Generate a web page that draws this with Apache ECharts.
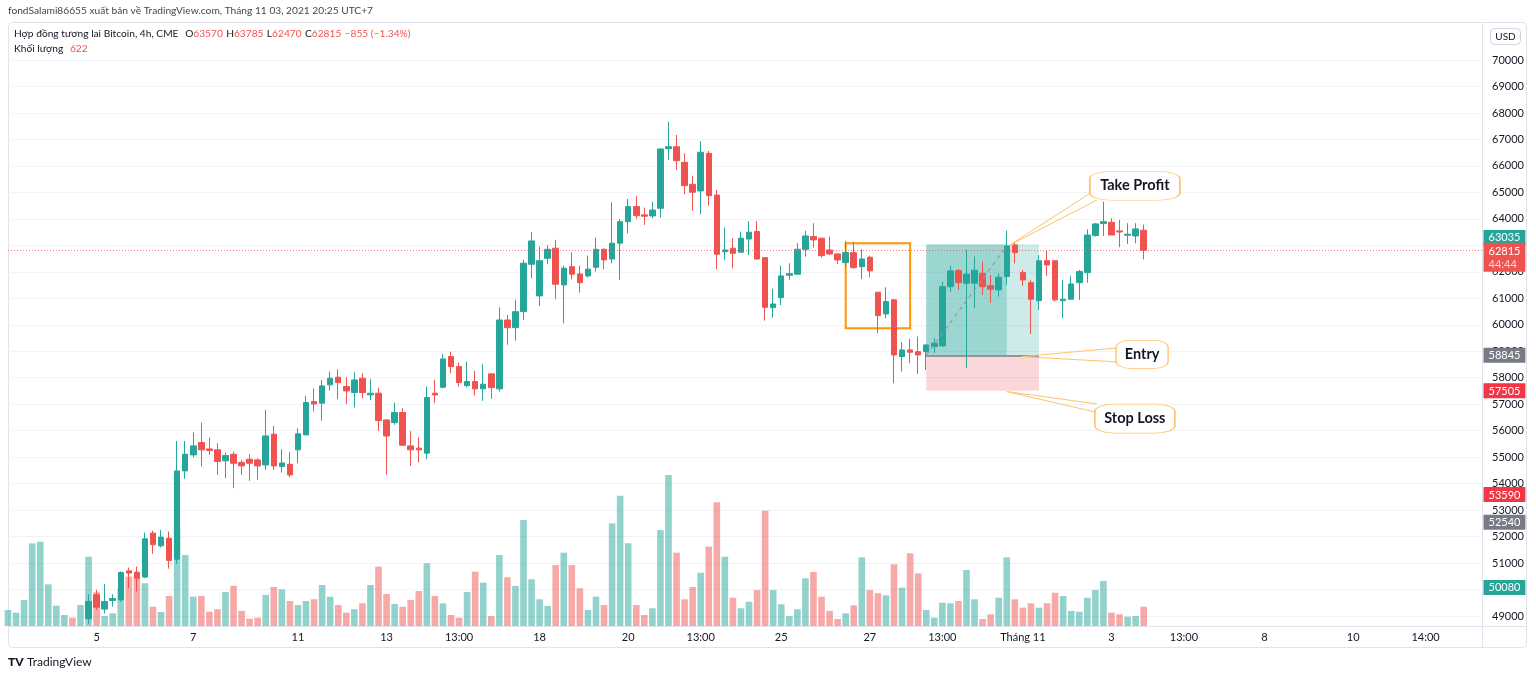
<!DOCTYPE html>
<html>
<head>
<meta charset="utf-8">
<title>Bitcoin CME 4h</title>
<script src="https://cdn.jsdelivr.net/npm/echarts@6/dist/echarts.min.js"></script>
<style>
  html, body { margin: 0; padding: 0; background: #fff; }
  #chart { width: 1536px; height: 679px; }
</style>
</head>
<body>
<div id="chart"></div>
<script>
// bars 0-9 trade below the visible price range, so candles start at bar 10
const firstCandle = 10;

const opens = [
  48900, 49800, 49260, 49585, 49610, 50705, 50655, 50470, 52130, 51650,
  51940, 51145, 54480, 55085, 55550, 55310, 55275, 54860, 55110, 54800,
  54920, 54895, 54705, 55865, 54645, 54730, 55275, 55840, 57100, 57040,
  57730, 58020, 57665, 57440, 57980, 57350, 57415, 56405, 56305, 56685,
  55425, 55340, 55150, 57415, 57640, 58800, 58420, 57700, 57855, 57580,
  58145, 57580, 60180, 59890, 60495, 62285, 61090, 62510, 62890, 61505,
  62195, 61920, 61845, 62170, 62850, 62485, 63080, 63895, 64465, 64150,
  64110, 64400, 66650, 66725, 66135, 65305, 65055, 66475, 64900, 62760,
  62890, 62740, 63240, 63520, 62535, 60645, 61025, 61870, 61910, 62850,
  63330, 63270, 62825, 62675, 62350, 62725, 62195, 62550, 61230, 60410,
  60940, 58800, 59050, 58985, 58985, 59175, 59200, 61440, 62045, 61570,
  61570, 61945, 61480, 61315, 61820, 63015, 61970, 61590, 60910, 62420,
  62420, 60910, 60965, 61590, 61970, 63370, 63820, 63870, 63545, 63380,
  63355, 63570
];
const closes = [
  49545, 49330, 49545, 49660, 50640, 50620, 50430, 51915, 51690, 51980,
  51100, 54480, 55110, 55425, 55275, 55250, 54835, 55060, 54770, 54670,
  54770, 54670, 55800, 54670, 54780, 54330, 55880, 57060, 57010, 57690,
  57980, 57815, 57500, 57915, 57440, 57415, 56380, 55800, 56685, 55450,
  55275, 55275, 57250, 57350, 58710, 58420, 57815, 57855, 57580, 57755,
  57625, 60180, 59890, 60495, 62325, 63165, 62420, 62850, 61530, 62135,
  61910, 61590, 62100, 62850, 62450, 63080, 63895, 64465, 64120, 64100,
  64335, 66640, 66725, 66200, 65255, 65005, 66515, 64875, 62665, 62825,
  62700, 63270, 63495, 62485, 60660, 60785, 61845, 61930, 62850, 63355,
  63205, 62610, 62675, 62450, 62725, 62160, 62485, 62035, 60345, 60875,
  58860, 59050, 58960, 58860, 59240, 59300, 61440, 62035, 61590, 61910,
  62060, 61440, 61340, 61795, 62975, 62725, 61695, 60965, 62420, 62260,
  60940, 60965, 61540, 62010, 63390, 63810, 63895, 63390, 63505, 63420,
  63620, 62815
];
const lows = [
  48700, 49230, 49100, 49360, 49545, 50050, 49925, 50430, 51345, 51585,
  50790, 50970, 54180, 54990, 54645, 55085, 54330, 54205, 53830, 54330,
  54105, 54140, 54520, 54520, 54415, 54240, 54770, 55840, 56720, 56380,
  57510, 57190, 57010, 56875, 57225, 57160, 55990, 54330, 56220, 55425,
  54670, 54800, 54920, 57040, 57600, 58170, 57665, 57640, 57325, 57125,
  57200, 57475, 59240, 59400, 60180, 61760, 60710, 62285, 60965, 60060,
  61720, 61215, 61780, 62010, 62100, 62320, 61695, 63455, 63995, 63770,
  64025, 64050, 66225, 65850, 64930, 64300, 64175, 64500, 62100, 62450,
  62135, 62740, 62635, 62450, 60155, 60270, 60745, 61695, 61910, 62575,
  62910, 62535, 62635, 62285, 62195, 62110, 61730, 61795, 59680, 60245,
  57790, 58230, 58550, 58145, 58295, 58925, 59175, 61250, 61315, 58360,
  60625, 61125, 60835, 61060, 61505, 62320, 61470, 59655, 60560, 61845,
  60875, 60245, 60940, 60940, 61590, 63330, 63355, 63390, 62930, 63050,
  63080, 62470
];
const highs = [
  49820, 49990, 50215, 49820, 50680, 50830, 50870, 52150, 52225, 52250,
  52190, 55610, 55610, 55930, 56305, 55740, 55525, 55170, 55210, 54900,
  55110, 54960, 56785, 56180, 55300, 55185, 56095, 57310, 57600, 57915,
  58230, 58320, 58020, 58210, 58170, 57945, 57625, 56435, 57060, 56850,
  55980, 55750, 57665, 57915, 58900, 58985, 58570, 58610, 58255, 58510,
  58145, 60660, 60370, 60940, 62450, 63495, 62950, 63015, 63205, 62235,
  62740, 62235, 62610, 63290, 62890, 64625, 63995, 64750, 64865, 64425,
  64650, 66665, 67670, 67170, 66480, 65630, 66940, 66565, 65090, 63670,
  63270, 63520, 63920, 63920, 62535, 61355, 62235, 62325, 63080, 63545,
  63835, 63270, 63330, 62700, 63165, 63140, 62850, 62610, 61230, 61415,
  60965, 59340, 59465, 59555, 59240, 59490, 61630, 62225, 62100, 62825,
  62575, 62385, 61880, 61945, 63555, 63120, 62070, 61695, 62635, 62790,
  62420, 61695, 61845, 62070, 63605, 63835, 64650, 64020, 63960, 63835,
  63835, 63785
];
const volumes = [
  515, 430, 840, 2660, 2715, 1340, 655, 355, 270, 675,
  2230, 1085, 320, 410, 1215, 1590, 1590, 1375, 620, 450,
  965, 3145, 2285, 945, 965, 460, 540, 1095, 1290, 485,
  235, 270, 1000, 1255, 1180, 805, 675, 805, 860, 1320,
  945, 675, 430, 540, 730, 1320, 1910, 1030, 710, 620,
  840, 1125, 2020, 965, 730, 355, 270, 1095, 1750, 1395,
  320, 2285, 1570, 1290, 3415, 1505, 860, 645, 1965, 2360,
  1965, 1215, 515, 945, 675, 3305, 4195, 2665, 675, 355,
  570, 3090, 4860, 2360, 860, 1255, 1715, 2555, 3985, 2230,
  910, 570, 780, 1160, 3715, 1160, 700, 320, 540, 1535,
  1740, 945, 485, 225, 410, 665, 2210, 1160, 1055, 990,
  1985, 1235, 2340, 1695, 515, 270, 750, 730, 805, 1805,
  860, 225, 375, 910, 2210, 860, 590, 730, 590, 730,
  1070, 965, 485, 460, 910, 1160, 1450, 430, 375, 300,
  320, 622
];
// direction of the bars whose candles are off screen
const earlyDir = ['up', 'up', 'up', 'up', 'up', 'up', 'up', 'up', 'down', 'up'];

const priceTicks = [49000, 50000, 51000, 52000, 53000, 54000, 55000, 56000, 57000, 58000,
  59000, 60000, 61000, 62000, 63000, 64000, 65000, 66000, 67000, 68000, 69000, 70000];
const timeLabels = ['5', '7', '11', '13', '13:00', '18', '20', '13:00', '25', '27',
  '13:00', 'Tháng 11', '3', '13:00', '8', '10', '14:00'];
const timeLabelBar = [11, 23, 36, 47, 56, 66, 77, 86, 96, 107, 116, 126, 137, 146, 156, 167, 176];

// position tool / levels
const entryPrice = 58845;
const targetPrice = 63035;
const stopPrice = 57505;
const lastPrice = 62815;
const sideLevels = [53590, 52540, 50080];

const UP = '#26a69a';
const DOWN = '#ef5350';
const FONT = 'Lato, "Noto Sans", sans-serif';
const slotCount = 184; // bars + empty space on the right

const categories = new Array(slotCount).fill('');
timeLabelBar.forEach((b, k) => { categories[b] = timeLabels[k]; });

const candleData = [];
const volumeData = [];
for (let i = 0; i < volumes.length; i++) {
  const k = i - firstCandle;
  let isUp;
  if (k >= 0) {
    candleData.push([opens[k], closes[k], lows[k], highs[k]]);
    isUp = closes[k] >= opens[k];
  } else {
    candleData.push('-');
    isUp = earlyDir[i] === 'up';
  }
  volumeData.push({
    value: volumes[i],
    itemStyle: { color: isUp ? 'rgba(38,166,154,0.5)' : 'rgba(239,83,80,0.5)' }
  });
}

const lastSlot = slotCount - 1;
function priceTag(value, bg, dy, text) {
  return {
    coord: [lastSlot, value],
    symbol: 'rect',
    symbolSize: 1,
    itemStyle: { color: 'rgba(0,0,0,0)' },
    label: {
      show: true,
      position: 'right',
      distance: 1,
      offset: [0, dy],
      formatter: text || String(value),
      backgroundColor: bg,
      color: '#fff',
      fontSize: 11,
      fontFamily: FONT,
      padding: [2, 5, 1, 5],
      lineHeight: 12,
      rich: {
        a: { color: '#fff', fontSize: 11, fontFamily: FONT, lineHeight: 13 },
        b: { color: 'rgba(255,255,255,0.75)', fontSize: 11, fontFamily: FONT, lineHeight: 13 }
      }
    }
  };
}

function callout(x, y, w, h, text) {
  return {
    coord: [x, y],
    symbol: 'roundRect',
    symbolSize: [w, h],
    itemStyle: { color: '#fff', borderColor: '#ffc26b', borderWidth: 1 },
    label: {
      show: true,
      position: 'inside',
      formatter: text,
      color: '#131722',
      fontSize: 14.5,
      fontWeight: 'bold',
      fontFamily: FONT
    }
  };
}

const wedge = { color: '#ffc26b', width: 1, type: 'solid' };
function seg(a, b, style) {
  return [{ coord: a, lineStyle: style }, { coord: b }];
}

const chart = echarts.init(document.getElementById('chart'));

const option = {
  animation: false,
  backgroundColor: '#fff',
  grid: { left: 8, right: 54, top: 24, bottom: 53 },
  xAxis: [
    {
      type: 'category',
      data: categories,
      boundaryGap: false,
      axisLine: { show: false },
      axisTick: { show: false },
      splitLine: { show: false },
      axisLabel: { interval: 0, color: '#131722', fontSize: 11, fontFamily: FONT, margin: 6 }
    },
    { type: 'value', min: 0, max: lastSlot, show: false }
  ],
  yAxis: [
    {
      type: 'value',
      position: 'right',
      min: 48622,
      max: 71360,
      axisLine: { show: false },
      axisTick: { show: false, customValues: priceTicks },
      axisLabel: {
        customValues: priceTicks,
        formatter: v => String(v),
        color: '#131722',
        fontSize: 11,
        fontFamily: FONT,
        margin: 10
      },
      splitLine: { show: true, lineStyle: { color: '#f0f3fa', width: 1 } }
    },
    { type: 'value', min: 0, max: 19384, show: false }
  ],
  series: [
    {
      name: 'Khối lượng',
      type: 'bar',
      xAxisIndex: 0,
      yAxisIndex: 1,
      data: volumeData,
      barWidth: 6.6,
      silent: true,
      z: 1
    },
    {
      name: 'BTC',
      type: 'candlestick',
      xAxisIndex: 0,
      yAxisIndex: 0,
      data: candleData,
      barWidth: 6,
      silent: true,
      z: 3,
      itemStyle: { color: UP, color0: DOWN, borderColor: UP, borderColor0: DOWN, borderWidth: 1 }
    },
    {
      name: 'drawings',
      type: 'line',
      xAxisIndex: 1,
      yAxisIndex: 0,
      data: [],
      clip: false,
      silent: true,
      z: 4,
      markArea: {
        silent: true,
        data: [
          [{ coord: [114, stopPrice], itemStyle: { color: 'rgba(242,54,69,0.2)' } }, { coord: [128, entryPrice] }],
          [{ coord: [114, entryPrice], itemStyle: { color: 'rgba(38,166,154,0.22)' } }, { coord: [128, targetPrice] }],
          [{ coord: [114, entryPrice], itemStyle: { color: 'rgba(38,166,154,0.3)' } }, { coord: [124, targetPrice] }],
          [{ coord: [104, 63080], itemStyle: { color: 'rgba(0,0,0,0)', borderColor: '#ff9800', borderWidth: 2 } }, { coord: [112, 59870] }]
        ]
      },
      markLine: {
        silent: true,
        symbol: ['none', 'none'],
        label: { show: false },
        data: [
          { yAxis: lastPrice, lineStyle: { color: 'rgba(239,83,80,0.75)', type: [1, 2], width: 1 } },
          seg([114, entryPrice], [128, entryPrice], { color: '#787b86', width: 1.5, type: 'solid' }),
          seg([114, entryPrice], [124, 62975], { color: '#9598a1', width: 1.2, type: [4, 4] }),
          seg([124.4, 63014], [134.6, 65016], wedge),
          seg([124.4, 63014], [135.2, 64714], wedge),
          seg([125.9, 58797], [137.7, 59125], wedge),
          seg([125.9, 58797], [137.7, 58597], wedge),
          seg([124.0, 57475], [135.2, 57010], wedge),
          seg([124.0, 57475], [134.9, 56710], wedge)
        ]
      },
      markPoint: {
        silent: true,
        data: [
          callout(139.9, 65250, 90, 29, 'Take Profit'),
          callout(140.8, 58880, 52, 28, 'Entry'),
          callout(139.9, 56455, 80, 29, 'Stop Loss'),
          priceTag(targetPrice, UP, -7),
          priceTag(lastPrice, DOWN, 7, '{a|' + lastPrice + '}\n{b|44:44}'),
          priceTag(entryPrice, '#787b86', 0),
          priceTag(stopPrice, '#f23645', 0),
          priceTag(sideLevels[0], '#f23645', 0),
          priceTag(sideLevels[1], '#787b86', 0),
          priceTag(sideLevels[2], UP, 0)
        ]
      }
    }
  ],
  graphic: [
    // pane frame and separators
    { type: 'rect', shape: { x: 8.5, y: 22.5, width: 1518, height: 625, r: 4 }, style: { fill: 'none', stroke: '#e0e3eb', lineWidth: 1 }, silent: true, z: 0 },
    { type: 'line', shape: { x1: 1482.5, y1: 22.5, x2: 1482.5, y2: 647.5 }, style: { stroke: '#e0e3eb', lineWidth: 1 }, silent: true },
    { type: 'line', shape: { x1: 8.5, y1: 626.5, x2: 1526.5, y2: 626.5 }, style: { stroke: '#e0e3eb', lineWidth: 1 }, silent: true },
    {
      type: 'text', left: 8, top: 6,
      style: { text: 'fondSalami86655 xuất bản về TradingView.com, Tháng 11 03, 2021 20:25 UTC+7', fill: '#434651', font: '10.2px ' + FONT }
    },
    {
      type: 'text', left: 14, top: 28, z: 10,
      style: {
        text: '{n|Hợp đồng tương lai Bitcoin, 4h, CME}  {k|O}{v|63570} {k|H}{v|63785} {k|L}{v|62470} {k|C}{v|62815} {v|−855 (−1.34%)}',
        rich: {
          n: { fill: '#131722', font: '10.2px ' + FONT },
          k: { fill: '#131722', font: '10.2px ' + FONT },
          v: { fill: DOWN, font: '10.2px ' + FONT }
        }
      }
    },
    {
      type: 'text', left: 14, top: 43, z: 10,
      style: {
        text: '{n|Khối lượng}  {v|622}',
        rich: {
          n: { fill: '#131722', font: '10.2px ' + FONT },
          v: { fill: DOWN, font: '10.2px ' + FONT }
        }
      }
    },
    {
      type: 'group', left: 1490, top: 28, z: 10,
      children: [
        { type: 'rect', shape: { x: 0, y: 0, width: 30, height: 16, r: 4 }, style: { fill: '#fff', stroke: '#d1d4dc' } },
        { type: 'text', x: 15, y: 8, style: { text: 'USD', fill: '#131722', font: '10px ' + FONT, align: 'center', verticalAlign: 'middle' } }
      ]
    },
    {
      type: 'text', left: 8, top: 656,
      style: {
        text: '{l|TV} {t|TradingView}',
        rich: {
          l: { fill: '#131722', font: '900 12px ' + FONT },
          t: { fill: '#131722', font: '12px ' + FONT }
        }
      }
    }
  ]
};

chart.setOption(option);
</script>
</body>
</html>
